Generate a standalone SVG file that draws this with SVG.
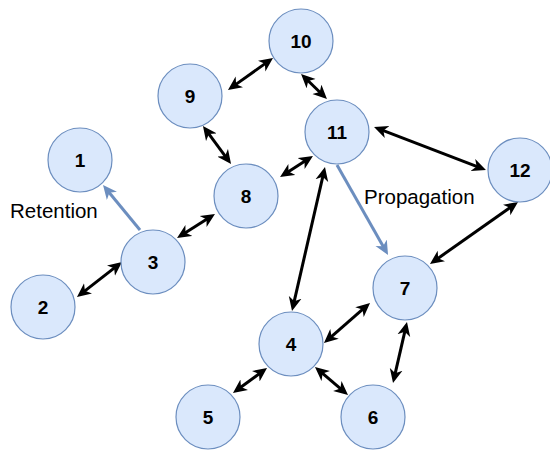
<svg xmlns="http://www.w3.org/2000/svg" width="550" height="451" viewBox="0 0 550 451">
<defs>
<style>
.node circle{fill:#dae8fc;stroke:#6c8ebf;stroke-width:1.2}
.node text{font-family:"Liberation Sans",Arial,sans-serif;font-weight:bold;font-size:19px;fill:#000;text-anchor:middle;dominant-baseline:central}
.e{stroke:#000;stroke-width:3;fill:none;marker-start:url(#ak);marker-end:url(#ak)}
.b{stroke:#6c8ebf;stroke-width:3;fill:none;marker-end:url(#ab)}
.lbl{font-family:"Liberation Sans",Arial,sans-serif;font-size:20.5px;fill:#000}
</style>
<marker id="ak" viewBox="0 0 14 14" markerWidth="14" markerHeight="14" refX="6" refY="7" orient="auto-start-reverse" markerUnits="userSpaceOnUse"><path d="M0,0.5 L14,7 L0,13.5 L4,7 z" fill="#000"/></marker>
<marker id="ab" viewBox="0 0 14 14" markerWidth="14" markerHeight="14" refX="6" refY="7" orient="auto-start-reverse" markerUnits="userSpaceOnUse"><path d="M0,0.5 L14,7 L0,13.5 L4,7 z" fill="#6c8ebf"/></marker>
</defs>
<rect width="550" height="451" fill="#fff"/>
<g id="connectors">
<line class="e" x1="83.3" y1="292.1" x2="115.7" y2="266.9"/>
<line class="e" x1="183.8" y1="233.7" x2="208.2" y2="218.3"/>
<line class="e" x1="234.5" y1="85.4" x2="266.5" y2="62.6"/>
<line class="e" x1="306.8" y1="79.5" x2="321.2" y2="93.5"/>
<line class="e" x1="207.7" y1="132.4" x2="226.3" y2="157.6"/>
<line class="e" x1="286.8" y1="172.7" x2="306.2" y2="160.3"/>
<line class="e" x1="323.2" y1="174.8" x2="293.8" y2="303.2"/>
<line class="e" x1="381.5" y1="129.9" x2="478.5" y2="167.1"/>
<line class="e" x1="511.5" y1="206.6" x2="436.5" y2="259.4"/>
<line class="e" x1="330" y1="337.8" x2="364" y2="308.2"/>
<line class="e" x1="405.2" y1="329.8" x2="394.8" y2="375.2"/>
<line class="e" x1="260.6" y1="372.7" x2="239.4" y2="388.3"/>
<line class="e" x1="321.1" y1="372.2" x2="341.9" y2="389.8"/>
<line class="b" x1="140" y1="230" x2="108.1" y2="191.2"/>
<line class="b" x1="337" y1="165" x2="384.1" y2="248"/>
</g>
<g id="n1" class="node"><circle cx="80" cy="160" r="32"/><text x="80" y="160">1</text></g>
<g id="n2" class="node"><circle cx="43" cy="307" r="32"/><text x="43" y="307">2</text></g>
<g id="n3" class="node"><circle cx="153" cy="262" r="32"/><text x="153" y="262">3</text></g>
<g id="n4" class="node"><circle cx="291" cy="344" r="32"/><text x="291" y="344">4</text></g>
<g id="n5" class="node"><circle cx="208" cy="417" r="32"/><text x="208" y="417">5</text></g>
<g id="n6" class="node"><circle cx="373" cy="417" r="32"/><text x="373" y="417">6</text></g>
<g id="n7" class="node"><circle cx="405" cy="288" r="32"/><text x="405" y="288">7</text></g>
<g id="n8" class="node"><circle cx="246" cy="196" r="32"/><text x="246" y="196">8</text></g>
<g id="n9" class="node"><circle cx="190" cy="96" r="32"/><text x="190" y="96">9</text></g>
<g id="n10" class="node"><circle cx="301" cy="41" r="32"/><text x="301" y="41">10</text></g>
<g id="n11" class="node"><circle cx="337" cy="132" r="32"/><text x="337" y="132">11</text></g>
<g id="n12" class="node"><circle cx="520" cy="170" r="32"/><text x="520" y="170">12</text></g>
<text class="lbl" x="10" y="218">Retention</text>
<text class="lbl" x="364" y="204">Propagation</text>
</svg>
